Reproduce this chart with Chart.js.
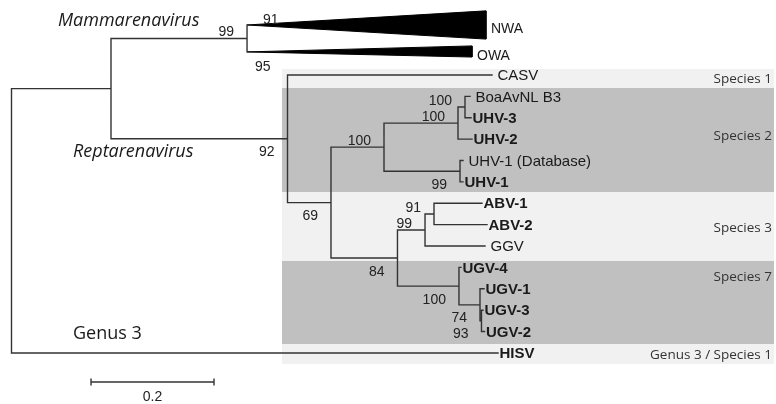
<!DOCTYPE html>
<html><head><meta charset="utf-8">
<script src="https://cdn.jsdelivr.net/npm/chart.js@4.4.0/dist/chart.umd.min.js"></script>
<style>html,body{margin:0;padding:0;background:#fff;}#wrap{width:776px;height:404px;}</style>
</head><body><div id="wrap"><canvas id="c" width="776" height="404"></canvas></div>
<script>
// ---------- DATA ----------
// leaves in display order (row index = position in list)
const tipNames  = ['CASV','BoaAvNL B3','UHV-3','UHV-2','UHV-1 (Database)','UHV-1','ABV-1','ABV-2','GGV','UGV-4','UGV-1','UGV-3','UGV-2','HISV'];
const tipNew    = [false,false,true,true,false,true,true,true,false,true,true,true,true,true];
const tipDepth  = [0.7813,0.7455,0.7472,0.7488,0.7341,0.7341,0.7650,0.7732,0.7699,0.7309,0.7683,0.7667,0.7691,0.7911];
const tipParent = ['A','E','E','D','U1','U1','I','I','H','G','J','K','K','root'];

// collapsed clades (triangles)
const cladeNames   = ['NWA','OWA'];
const cladeRow     = [-2.34,-1.08];
const cladeSpreadUp   = [0.66,0.28];
const cladeSpreadDown = [0.66,0.24];
const cladeDepth   = [0.7715,0.7488];
const cladeParent  = ['M','M'];
const cladeSupport = [91,95];

// internal nodes
const nodeIds     = ['root','N1','M','A','B','C','D','E','U1','F','H','I','G','J','K'];
const nodeParent  = [null,'root','N1','N1','A','B','C','D','C','B','F','H','F','G','J'];
const nodeDepth   = [0,0.1618,0.383,0.4488,0.5195,0.6057,0.7260,0.7374,0.7293,0.6276,0.6724,0.6870,0.7276,0.7618,0.7642];
const nodeSupport = [null,null,99,92,69,100,100,100,99,84,99,91,100,74,93];
const supportBelow= [false,false,false,true,true,false,false,false,true,true,false,false,true,true,true];

// groups (shaded bands), edges in row units
const groupNames = ['Species 1','Species 2','Species 3','Species 7','Genus 3 / Species 1'];
const groupEdges = [-0.28,0.61,5.47,8.70,12.58,13.52];
const groupLabelRow = [0.19,2.85,7.16,9.45,13.1];
const groupStart = 0.4398, groupEnd = 1.2398;

// genus labels
const genusNames = ['Mammarenavirus','Reptarenavirus','Genus 3'];
const genusItalic = [true,true,false];
const genusX = [0.0756,0.1,0.1];
const genusRow = [-2.53,3.60,12.11];

// scale bar
const scaleStart = 0.1293, scaleLength = 0.2, scaleRow = 14.36;

// axis ranges
const X_MIN = -0.0187, X_MAX = 1.2431, Y_MIN = -3.508, Y_MAX = 15.388;

// ---------- TREE LAYOUT ----------
const depth = {}, row = {}, children = {};
nodeIds.forEach((id,i)=>{depth[id]=nodeDepth[i]; children[id]=[];});
tipNames.forEach((n,i)=>{const k='t'+i; depth[k]=tipDepth[i]; row[k]=i; children[tipParent[i]].push(k);});
cladeNames.forEach((n,i)=>{const k='c'+i; row[k]=cladeRow[i]; children[cladeParent[i]].push(k); depth[k]=null;});
nodeIds.forEach((id,i)=>{ if(nodeParent[i]) children[nodeParent[i]].push(id); });
cladeNames.forEach((n,i)=>{depth['c'+i]=depth[cladeParent[i]];});
function calcRow(id){
  if(row[id]!==undefined) return row[id];
  const rs = children[id].map(calcRow);
  row[id] = (Math.min(...rs)+Math.max(...rs))/2;
  return row[id];
}
calcRow('root');

const treePts = [];
function seg(x1,y1,x2,y2){ treePts.push({x:x1,y:y1},{x:x2,y:y2},{x:x2,y:null}); }
nodeIds.forEach((id,i)=>{
  const rs = children[id].map(k=>row[k]);
  seg(depth[id],Math.min(...rs),depth[id],Math.max(...rs));
  children[id].forEach(k=>{
    if(k[0]==='c') return;
    seg(depth[id],row[k],depth[k],row[k]);
  });
});

const datasets = [];
datasets.push({data:treePts,borderColor:'#333',borderWidth:1.4,pointRadius:0,spanGaps:false,fill:false,order:0,borderCapStyle:'square'});
cladeNames.forEach((n,i)=>{
  const ax=depth['c'+i], r=cladeRow[i];
  datasets.push({data:[{x:ax,y:r},{x:cladeDepth[i],y:r-cladeSpreadUp[i]},{x:cladeDepth[i],y:r+cladeSpreadDown[i]},{x:ax,y:r}],
    borderColor:'#000',borderWidth:1,backgroundColor:'#000',fill:'shape',pointRadius:0,order:1});
});
const tickH = 0.16;
datasets.push({data:[{x:scaleStart,y:scaleRow},{x:scaleStart+scaleLength,y:scaleRow},{x:null,y:null},
  {x:scaleStart,y:scaleRow-tickH},{x:scaleStart,y:scaleRow+tickH},{x:null,y:null},
  {x:scaleStart+scaleLength,y:scaleRow-tickH},{x:scaleStart+scaleLength,y:scaleRow+tickH}],
  borderColor:'#333',borderWidth:1.4,pointRadius:0,spanGaps:false,fill:false,order:0});
groupNames.forEach((n,i)=>{
  const a=groupEdges[i], b=groupEdges[i+1];
  datasets.push({data:[{x:groupStart,y:a},{x:groupEnd,y:a},{x:groupEnd,y:b},{x:groupStart,y:b},{x:groupStart,y:a}],
    borderWidth:0,borderColor:'rgba(0,0,0,0)',backgroundColor:i%2===0?'#f1f1f1':'#c0c0c0',fill:'shape',pointRadius:0,order:5});
});

const labelPlugin = {
  id:'labels',
  afterDatasetsDraw(chart){
    const ctx=chart.ctx, sx=chart.scales.x, sy=chart.scales.y;
    const X=v=>sx.getPixelForValue(v), Y=v=>sy.getPixelForValue(v);
    ctx.save();
    // tip labels
    ctx.textBaseline='middle'; ctx.textAlign='left'; ctx.fillStyle='#1a1a1a';
    tipNames.forEach((n,i)=>{
      ctx.font=(tipNew[i]?'bold ':'')+'15px "Liberation Sans", Arial, sans-serif';
      ctx.fillText(n, X(tipDepth[i])+(tipNew[i]?1.5:5.5), Y(i)+1);
    });
    ctx.font='14px "Liberation Sans", Arial, sans-serif';
    cladeNames.forEach((n,i)=>{ ctx.fillText(n, X(cladeDepth[i])+5, Y(cladeRow[i])+ (i===0?4:4)); });
    // supports
    ctx.textBaseline='alphabetic'; ctx.fillStyle='#222';
    ctx.font='14px "Liberation Sans", Arial, sans-serif';
    ctx.textAlign='right';
    nodeIds.forEach((id,i)=>{
      if(nodeSupport[i]==null) return;
      const px=X(depth[id])-13, py=Y(row[id])+(supportBelow[i]?17.5:-2);
      ctx.fillText(String(nodeSupport[i]),px,py);
    });
    ctx.textAlign='left';
    const mx=X(depth['M']);
    ctx.fillText(String(cladeSupport[0]), mx+16, Y(cladeRow[0])-1);
    ctx.fillText(String(cladeSupport[1]), mx+8, Y(cladeRow[1])+19);
    // group labels
    ctx.textBaseline='middle'; ctx.textAlign='right'; ctx.fillStyle='#333';
    ctx.font='13.5px "Open Sans", sans-serif';
    groupNames.forEach((n,i)=>{ ctx.fillText(n, X(groupEnd)-2, Y(groupLabelRow[i])); });
    // genus labels
    ctx.textAlign='left'; ctx.fillStyle='#1a1a1a';
    genusNames.forEach((n,i)=>{
      ctx.font=(genusItalic[i]?'italic ':'')+'18px "Open Sans", sans-serif';
      ctx.fillText(n, X(genusX[i]), Y(genusRow[i]));
    });
    // scale label
    ctx.textAlign='center'; ctx.fillStyle='#222';
    ctx.font='14px "Liberation Sans", Arial, sans-serif';
    ctx.fillText(String(scaleLength), X(scaleStart+scaleLength/2), Y(scaleRow)+15);
    ctx.restore();
  }
};

new Chart(document.getElementById('c'),{
  type:'line',
  data:{datasets},
  options:{
    responsive:false, animation:false, devicePixelRatio:1,
    layout:{padding:0},
    plugins:{legend:{display:false},tooltip:{enabled:false}},
    elements:{line:{tension:0}},
    scales:{
      x:{type:'linear',min:X_MIN,max:X_MAX,display:false},
      y:{type:'linear',min:Y_MIN,max:Y_MAX,reverse:true,display:false}
    }
  },
  plugins:[labelPlugin]
});
</script></body></html>
